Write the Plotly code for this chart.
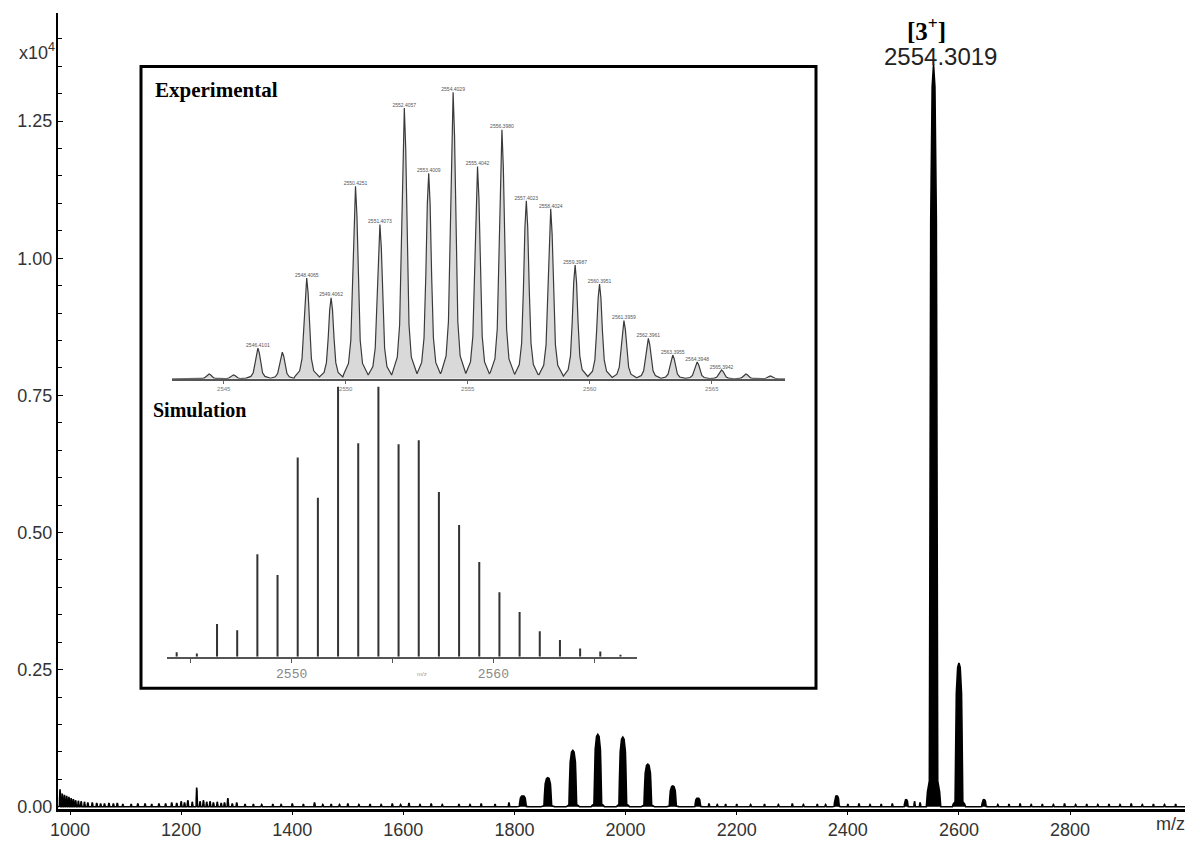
import plotly.graph_objects as go

# ---------------- data ----------------
# main spectrum: peak centroids (m/z), intensities (x10^4) and half widths (m/z)
main_peak_mz = [1815, 1860, 1905, 1950, 1995, 2040, 2085, 2130, 2380, 2505, 2554.3, 2600, 2645]
main_peak_int = [0.020, 0.053, 0.103, 0.132, 0.127, 0.078, 0.038, 0.016, 0.020, 0.013, 1.353, 0.262, 0.013]
main_peak_hw = [11, 12, 12, 12, 12, 12, 11, 9, 8, 6, 13, 12, 7]

# baseline noise spikes
noise_mz = [982, 986, 990, 994, 998, 1002, 1006, 1010, 1015, 1020, 1026, 1032, 1040, 1048,
            1055, 1062, 1070, 1078, 1085, 1095, 1110, 1122, 1135, 1147, 1160, 1172, 1183, 1192,
            1200, 1206, 1212, 1220, 1228, 1234, 1240, 1246, 1252, 1258, 1265, 1272, 1278, 1284,
            1292, 1300, 1315, 1330, 1345, 1365, 1380, 1400, 1420, 1440, 1455, 1470, 1485, 1500,
            1520, 1540, 1560, 1580, 1595, 1610, 1630, 1650, 1670, 1700, 1720, 1740, 1765, 1790,
            2150, 2165, 2180, 2200, 2225, 2250, 2275, 2300, 2320, 2345, 2360, 2400, 2420, 2440,
            2460, 2480, 2520, 2530, 2670, 2690, 2710, 2730, 2750, 2770, 2790, 2810, 2830, 2850,
            2870, 2890, 2910, 2930, 2950, 2970, 2990]
noise_int = [0.032, 0.024, 0.022, 0.020, 0.018, 0.016, 0.014, 0.012, 0.011, 0.010, 0.009, 0.008,
             0.008, 0.007, 0.006, 0.006, 0.007, 0.006, 0.007, 0.005, 0.005, 0.006, 0.006, 0.005,
             0.006, 0.006, 0.008, 0.007, 0.010, 0.008, 0.012, 0.009, 0.035, 0.010, 0.012, 0.009,
             0.010, 0.008, 0.009, 0.007, 0.008, 0.016, 0.006, 0.008, 0.005, 0.005, 0.004, 0.005,
             0.004, 0.006, 0.005, 0.008, 0.004, 0.005, 0.004, 0.006, 0.004, 0.005, 0.004, 0.006,
             0.004, 0.007, 0.004, 0.006, 0.004, 0.005, 0.004, 0.006, 0.005, 0.008, 0.006, 0.004,
             0.005, 0.005, 0.004, 0.005, 0.004, 0.006, 0.004, 0.005, 0.004, 0.005, 0.006, 0.004,
             0.005, 0.006, 0.010, 0.008, 0.004, 0.005, 0.006, 0.004, 0.005, 0.004, 0.006, 0.004,
             0.005, 0.004, 0.005, 0.004, 0.006, 0.004, 0.005, 0.004, 0.005]
noise_hw = 1.6

# inset: experimental isotope pattern (relative %)
exp_mz = [2544.4, 2545.4, 2546.4, 2547.4, 2548.4, 2549.4, 2550.4, 2551.4, 2552.4, 2553.4,
          2554.4, 2555.4, 2556.4, 2557.4, 2558.4, 2559.4, 2560.4, 2561.4, 2562.4, 2563.4,
          2564.4, 2565.4, 2566.4, 2567.4]
exp_int = [1.7, 1.4, 10.7, 9.3, 35.2, 28.3, 67.2, 53.8, 94.5, 71.7,
           100.0, 74.1, 86.9, 62.1, 59.3, 39.7, 33.1, 20.3, 14.1, 8.3,
           5.9, 3.1, 1.7, 1.0]
exp_labels = ["", "", "2546.4101", "", "2548.4065", "2549.4062", "2550.4251", "2551.4073",
              "2552.4057", "2553.4009", "2554.4029", "2555.4042", "2556.3980", "2557.4023",
              "2558.4024", "2559.3987", "2560.3951", "2561.3959", "2562.3961", "2563.3955",
              "2564.3948", "2565.3942", "", ""]

# inset: simulated isotope pattern (relative %)
sim_mz = [2544.3, 2545.3, 2546.3, 2547.3, 2548.3, 2549.3, 2550.3, 2551.3, 2552.3, 2553.3,
          2554.3, 2555.3, 2556.3, 2557.3, 2558.3, 2559.3, 2560.3, 2561.3, 2562.3, 2563.3,
          2564.3, 2565.3, 2566.3]
sim_int = [1.7, 1.2, 12.1, 9.8, 38.0, 30.3, 73.8, 58.9, 100.0, 79.1,
           100.0, 78.7, 80.2, 61.0, 48.8, 35.1, 23.9, 16.6, 9.4, 6.2,
           3.0, 1.9, 0.7]

x_ticks = [1000, 1200, 1400, 1600, 1800, 2000, 2200, 2400, 2600, 2800]
exp_ticks = [2545, 2550, 2555, 2560, 2565]
sim_ticks = [2550, 2560]
sim_minor_ticks = [2545, 2555, 2565]

# ---------------- peak shape templates (style) ----------------
MAIN_FRAC = [0.0, 0.19, 0.39, 0.45, 0.51, 0.58, 0.84, 1.0]
MAIN_REL = [1.0, 0.97, 0.79, 0.59, 0.37, 0.035, 0.02, 0.0]
EXP_FRAC = [0.0, 0.12, 0.25, 0.4, 0.6, 1.0]
EXP_REL = [1.0, 0.85, 0.5, 0.2, 0.08, 0.025]
EXP_HW = 0.48


def profile(centers, heights, hws, frac, rel, x0, x1):
    items = sorted(zip(centers, heights, hws))
    xs, ys = [x0], [0.0]
    for c, h, w in items:
        for f, r in zip(frac[::-1], rel[::-1]):
            xs.append(c - f * w)
            ys.append(r * h)
        for f, r in zip(frac[1:], rel[1:]):
            xs.append(c + f * w)
            ys.append(r * h)
    xs.append(x1)
    ys.append(0.0)
    return xs, ys


X_MIN, X_MAX = 978.4, 3006.9
all_mz = main_peak_mz + noise_mz
all_int = main_peak_int + noise_int
all_hw = main_peak_hw + [noise_hw] * len(noise_mz)
mx, my = profile(all_mz, all_int, all_hw, MAIN_FRAC, MAIN_REL, X_MIN, X_MAX)

ex, ey = profile(exp_mz, exp_int, [EXP_HW] * len(exp_mz), EXP_FRAC, EXP_REL, 2542.88, 2568.0)

lab_x = [m for m, t in zip(exp_mz, exp_labels) if t]
lab_y = [v for v, t in zip(exp_int, exp_labels) if t]
lab_t = [t for t in exp_labels if t]

# ---------------- layout helpers ----------------
W, H = 1190, 845
L, R, T, B = 58, 1185, 13, 818


def px(x):
    return (x - L) / (R - L)


def py(y):
    return (B - y) / (B - T)


SANS = "Liberation Sans, Arial, sans-serif"
SERIF = "Liberation Serif, Times New Roman, serif"

fig = go.Figure()

fig.add_trace(go.Scatter(x=mx, y=my, mode="lines", fill="tozeroy", fillcolor="black",
                         line=dict(color="black", width=1.6), hoverinfo="skip"))

fig.add_trace(go.Scatter(x=ex, y=ey, mode="lines", fill="tozeroy", fillcolor="#d9d9d9",
                         line=dict(color="#3a3a3a", width=1.2), xaxis="x2", yaxis="y2",
                         hoverinfo="skip"))
fig.add_trace(go.Scatter(x=lab_x, y=lab_y, mode="text", text=lab_t,
                         textposition="top center", textfont=dict(size=5, color="#555", family=SANS),
                         xaxis="x2", yaxis="y2", cliponaxis=False, hoverinfo="skip"))

fig.add_trace(go.Bar(x=sim_mz, y=sim_int, width=0.1, marker=dict(color="#333", line=dict(width=0)),
                     xaxis="x3", yaxis="y3", hoverinfo="skip"))

fig.update_layout(
    width=W, height=H,
    margin=dict(l=L, r=W - R, t=T, b=H - B),
    paper_bgcolor="white", plot_bgcolor="rgba(0,0,0,0)",
    showlegend=False, hovermode=False,
    xaxis=dict(domain=[0, 1], range=[X_MIN, X_MAX], tickmode="array", tickvals=x_ticks,
               ticks="outside", ticklen=3, tickcolor="black", showline=True, linecolor="black",
               linewidth=2.5, showgrid=False, zeroline=False,
               tickfont=dict(family=SANS, size=18, color="#333")),
    yaxis=dict(domain=[0, 1], range=[-0.004, 1.447], tickmode="linear", tick0=0, dtick=0.25,
               tickformat=".2f", ticks="inside", ticklen=5, tickcolor="black",
               minor=dict(tickmode="linear", tick0=0, dtick=0.05, ticks="inside", ticklen=4,
                          tickcolor="black", showgrid=False),
               showline=True, linecolor="black", linewidth=2, showgrid=False, zeroline=False,
               tickfont=dict(family=SANS, size=18, color="#333")),
    xaxis2=dict(domain=[px(172), px(785)], anchor="y2", range=[2542.88, 2568.0],
                tickmode="array", tickvals=exp_ticks, ticks="outside", ticklen=3, tickcolor="#666",
                showline=True, linecolor="#555", linewidth=2, showgrid=False, zeroline=False,
                tickfont=dict(family=SANS, size=6, color="#777")),
    yaxis2=dict(domain=[py(383), py(80)], anchor="x2", range=[0, 104.5], visible=False),
    xaxis3=dict(domain=[px(167), px(637)], anchor="y3", range=[2543.82, 2567.12],
                tickmode="array", tickvals=sim_ticks, ticks="outside",
                ticklen=4, tickcolor="#555", showline=True, linecolor="#555", linewidth=2,
                minor=dict(tickmode="array", tickvals=sim_minor_ticks, ticks="outside",
                           ticklen=4, tickcolor="#555", showgrid=False),
                showgrid=False, zeroline=False,
                tickfont=dict(family="Liberation Mono, DejaVu Sans Mono, monospace", size=13,
                              color="#888")),
    yaxis3=dict(domain=[py(664), py(385)], anchor="x3", range=[0, 102.2], visible=False),
    shapes=[dict(type="rect", xref="paper", yref="paper", x0=px(141), x1=px(816),
                 y0=py(696), y1=py(67), line=dict(color="black", width=3),
                 fillcolor="white", layer="below")],
    annotations=[
        dict(text="x10<sup>4</sup>", xref="paper", yref="paper", x=px(57), y=py(52),
             xanchor="right", yanchor="middle", showarrow=False,
             font=dict(family=SANS, size=18, color="#333")),
        dict(text="m/z", xref="paper", yref="paper", x=px(1170), y=py(833),
             xanchor="center", yanchor="middle", showarrow=False,
             font=dict(family=SANS, size=18, color="#333")),
        dict(text="<b>Experimental</b>", xref="paper", yref="paper", x=px(153), y=py(91),
             xanchor="left", yanchor="middle", showarrow=False,
             font=dict(family=SERIF, size=21, color="black")),
        dict(text="<b>Simulation</b>", xref="paper", yref="paper", x=px(151), y=py(414),
             xanchor="left", yanchor="middle", showarrow=False,
             font=dict(family=SERIF, size=20, color="black")),
        dict(text="m/z", xref="paper", yref="paper", x=px(422), y=py(681),
             xanchor="center", yanchor="middle", showarrow=False,
             font=dict(family=SANS, size=6, color="#999")),
        dict(text="2554.3019", xref="x", yref="y", x=main_peak_mz[10], y=main_peak_int[10],
             xanchor="center", yanchor="middle", xshift=7, yshift=8, showarrow=False,
             font=dict(family=SANS, size=24, color="#222")),
        dict(text="<b>[3<sup>+</sup>]</b>", xref="x", yref="y", x=main_peak_mz[10],
             y=main_peak_int[10], xanchor="center", yanchor="middle", xshift=-7, yshift=36,
             showarrow=False, font=dict(family=SERIF, size=25, color="black")),
    ],
)

fig.write_html("out.html")
